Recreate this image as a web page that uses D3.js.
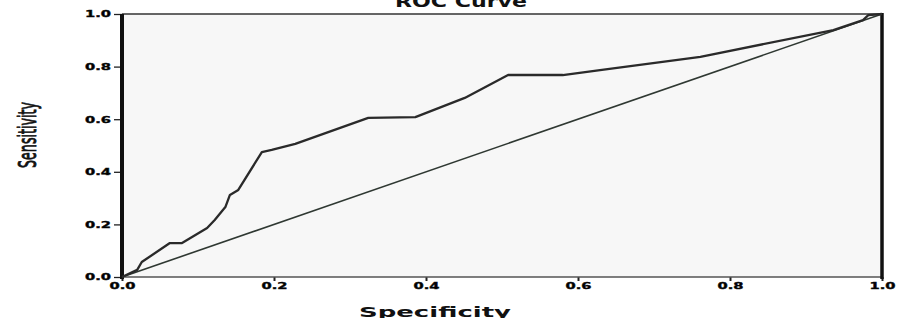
<!DOCTYPE html>
<html>
<head>
<meta charset="utf-8">
<script src="https://cdn.jsdelivr.net/npm/d3@7"></script>
<style>
  body { margin: 0; background: #fff; }
  svg { display: block; }
  .tick text { font-family: "DejaVu Sans", sans-serif; font-weight: bold; }
</style>
</head>
<body>
<svg id="chart"></svg>
<script>
// ROC curve: specificity axis (x) vs sensitivity (y)
const width = 903;
const height = 318;

const specificity = [0, 0.020, 0.026, 0.063, 0.079, 0.112, 0.122, 0.136, 0.142, 0.153, 0.184, 0.197, 0.228, 0.324, 0.386, 0.451, 0.508, 0.580, 0.629, 0.761, 0.936, 0.975, 0.982, 1.0];
const sensitivity = [0, 0.027, 0.057, 0.129, 0.129, 0.186, 0.217, 0.266, 0.312, 0.331, 0.475, 0.483, 0.506, 0.605, 0.608, 0.681, 0.768, 0.768, 0.787, 0.837, 0.939, 0.977, 0.996, 1.0];
const refX = [0, 1];
const refY = [0, 1];
const tickValues = [0, 0.2, 0.4, 0.6, 0.8, 1.0];

const svg = d3.select("#chart").attr("width", width).attr("height", height);

const x = d3.scaleLinear().domain([0, 1]).range([122, 882]);
const y = d3.scaleLinear().domain([0, 1]).range([277, 14]);

// plot background
svg.append("rect")
  .attr("x", x(0))
  .attr("y", y(1))
  .attr("width", x(1) - x(0))
  .attr("height", y(0) - y(1))
  .attr("fill", "#f7f7f7");

// axes
const yAxis = svg.append("g")
  .attr("transform", `translate(${x(0)},0)`)
  .call(d3.axisLeft(y).tickValues(tickValues).tickFormat(d3.format(".1f")).tickSize(8).tickSizeOuter(0).tickPadding(3));
yAxis.select(".domain").remove();
yAxis.selectAll(".tick line").attr("stroke", "#222").attr("stroke-width", 1.3);
yAxis.selectAll(".tick text")
  .attr("font-size", 9)
  .attr("textLength", 26)
  .attr("lengthAdjust", "spacingAndGlyphs")
  .attr("stroke", "#111")
  .attr("stroke-width", 0.4)
  .attr("dy", "0.32em");

const xAxis = svg.append("g")
  .attr("transform", `translate(0,${y(0)})`)
  .call(d3.axisBottom(x).tickValues(tickValues).tickFormat(d3.format(".1f")).tickSize(4).tickSizeOuter(0).tickPadding(3));
xAxis.select(".domain").remove();
xAxis.selectAll(".tick line").attr("stroke", "#222").attr("stroke-width", 2);
xAxis.selectAll(".tick text")
  .attr("font-size", 9)
  .attr("textLength", 26)
  .attr("lengthAdjust", "spacingAndGlyphs")
  .attr("stroke", "#111")
  .attr("stroke-width", 0.4)
  .attr("dy", "0.55em");

// frame
svg.append("line").attr("x1", x(0)).attr("x2", x(1)).attr("y1", y(1)).attr("y2", y(1))
  .attr("stroke", "#333").attr("stroke-width", 1.5);
svg.append("line").attr("x1", x(0)).attr("x2", x(1)).attr("y1", y(0)).attr("y2", y(0))
  .attr("stroke", "#555").attr("stroke-width", 1.5);
svg.append("line").attr("x1", x(0)).attr("x2", x(0)).attr("y1", y(1)).attr("y2", y(0) + 2)
  .attr("stroke", "#111").attr("stroke-width", 4);
svg.append("line").attr("x1", x(1)).attr("x2", x(1)).attr("y1", y(1) - 1).attr("y2", y(0) + 2)
  .attr("stroke", "#111").attr("stroke-width", 3.5);

// reference diagonal
const line = d3.line().x((d) => x(d[0])).y((d) => y(d[1]));
svg.append("path")
  .datum(d3.zip(refX, refY))
  .attr("d", line)
  .attr("fill", "none")
  .attr("stroke", "#2f3832")
  .attr("stroke-width", 1.6);

// roc curve
svg.append("path")
  .datum(d3.zip(specificity, sensitivity))
  .attr("d", line)
  .attr("fill", "none")
  .attr("stroke", "#2a2a2a")
  .attr("stroke-width", 2.3)
  .attr("stroke-linejoin", "round");

// titles
svg.append("text")
  .attr("x", 461)
  .attr("y", 7)
  .attr("text-anchor", "middle")
  .attr("font-family", "DejaVu Sans, sans-serif")
  .attr("font-weight", "bold")
  .attr("font-size", 16)
  .attr("textLength", 132)
  .attr("lengthAdjust", "spacingAndGlyphs")
  .attr("fill", "#111")
  .text("ROC Curve");

svg.append("text")
  .attr("x", 435)
  .attr("y", 317)
  .attr("text-anchor", "middle")
  .attr("font-family", "DejaVu Sans, sans-serif")
  .attr("font-weight", "bold")
  .attr("font-size", 14)
  .attr("textLength", 152)
  .attr("lengthAdjust", "spacingAndGlyphs")
  .attr("fill", "#111")
  .text("Specificity");

svg.append("text")
  .attr("transform", "translate(36,135) rotate(-90)")
  .attr("text-anchor", "middle")
  .attr("font-family", "DejaVu Sans, sans-serif")
  .attr("font-size", 24)
  .attr("textLength", 66)
  .attr("lengthAdjust", "spacingAndGlyphs")
  .attr("fill", "#111")
  .attr("stroke", "#111")
  .attr("stroke-width", 0.9)
  .text("Sensitivity");
</script>
</body>
</html>
